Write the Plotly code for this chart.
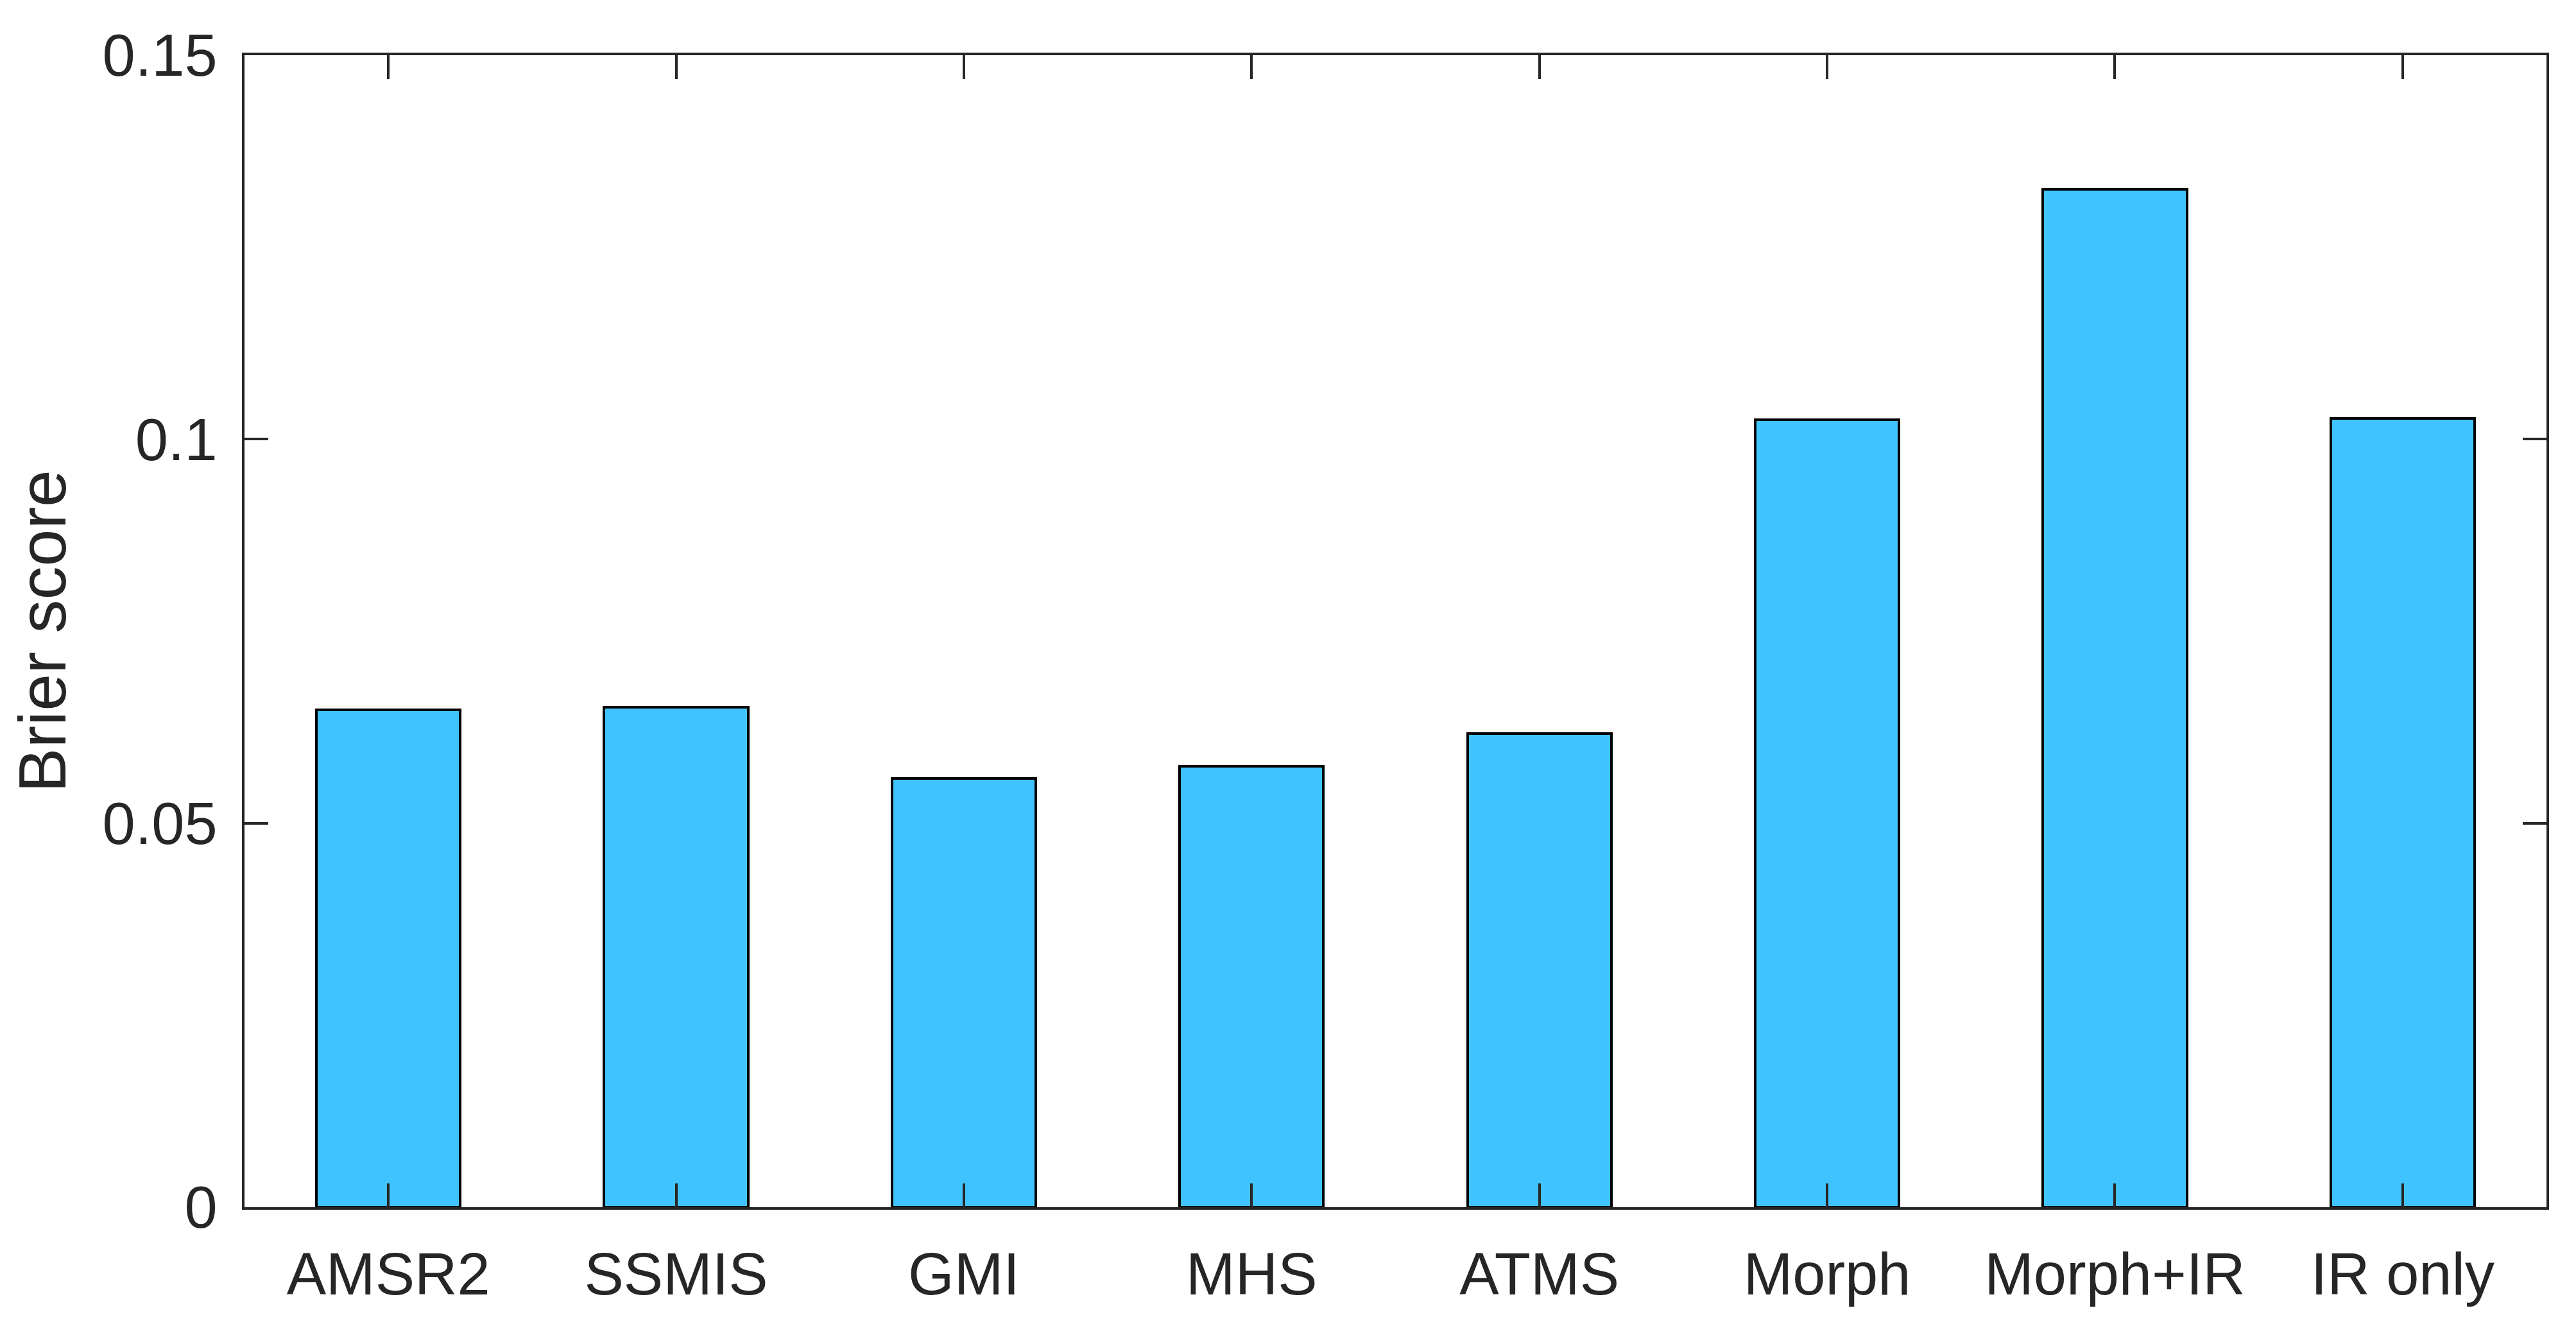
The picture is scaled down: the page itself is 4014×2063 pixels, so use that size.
import plotly.graph_objects as go

categories = ["AMSR2", "SSMIS", "GMI", "MHS", "ATMS", "Morph", "Morph+IR", "IR only"]
brier = [0.0648, 0.0651, 0.0558, 0.0574, 0.0617, 0.1025, 0.1325, 0.1027]
ytick_vals = [0, 0.05, 0.1, 0.15]
ytick_text = ["0", "0.05", "0.1", "0.15"]

positions = list(range(1, len(categories) + 1))

fig = go.Figure(go.Bar(
    x=positions, y=brier, width=0.5,
    marker=dict(color="#40C4FF", line=dict(color="#000000", width=4)),
))

axis_color = "#262626"
font = dict(family="Liberation Sans, Arial, sans-serif", size=92, color=axis_color)

fig.update_layout(
    width=4014, height=2063,
    margin=dict(l=373, r=54, t=78, b=190),
    paper_bgcolor="white", plot_bgcolor="white",
    font=font, showlegend=False, bargap=0,
)
fig.update_xaxes(
    range=[0.5, 8.5], tickmode="array", tickvals=positions, ticktext=categories,
    showline=True, linecolor=axis_color, linewidth=4, mirror="ticks",
    ticks="inside", ticklen=37, tickwidth=4, tickcolor=axis_color,
    showgrid=False, zeroline=False, ticklabelstandoff=22,
)
fig.update_yaxes(
    range=[0, 0.15], tickmode="array", tickvals=ytick_vals, ticktext=ytick_text,
    showline=True, linecolor=axis_color, linewidth=4, mirror="ticks",
    ticks="inside", ticklen=37, tickwidth=4, tickcolor=axis_color,
    showgrid=False, zeroline=False, ticklabelstandoff=20,
    title=dict(text="Brier score", font=dict(size=104, color=axis_color), standoff=36),
)

fig.write_html("out.html")
